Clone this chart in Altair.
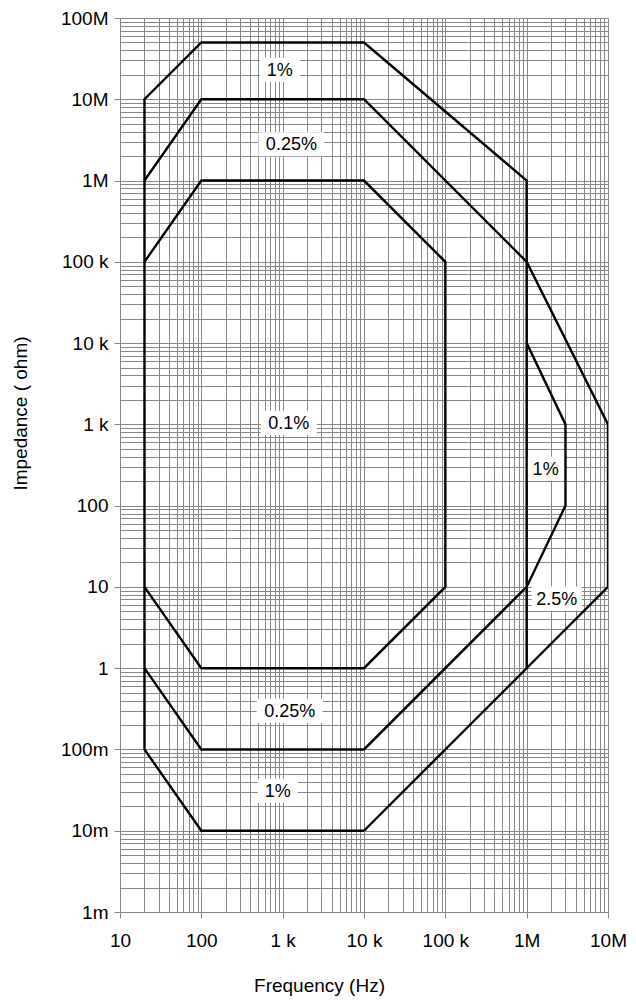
import altair as alt
import pandas as pd

# ---- data ----
# contour paths: frequency (Hz) and impedance (ohm) vertices
p1_freq = [10000, 100, 20, 20, 100, 10000, 1e6, 1e6]
p1_imp = [0.01, 0.01, 0.1, 1e7, 5e7, 5e7, 1e6, 1]

p2_freq = [20, 100, 10000, 1e6, 1e7, 1e7, 10000]
p2_imp = [1e6, 1e7, 1e7, 1e5, 1000, 10, 0.01]

p3_freq = [20, 100, 10000, 1e6, 3e6, 3e6, 1e6]
p3_imp = [1, 0.1, 0.1, 10, 100, 1000, 10000]

p4_freq = [20, 100, 10000, 1e5, 1e5, 10000, 100, 20]
p4_imp = [1e5, 1e6, 1e6, 1e5, 10, 1, 1, 10]

# accuracy labels
label_text = ["1%", "0.25%", "0.1%", "1%", "2.5%", "0.25%", "1%"]
label_freq = [920, 1280, 1190, 1.71e6, 2.34e6, 1220, 870]
label_imp = [2.3e7, 2.8e6, 1040, 284, 7.2, 0.30, 0.031]

# axis tick labels
x_tick_vals = [10, 100, 1000, 10000, 100000, 1e6, 1e7]
x_tick_text = ["10", "100", "1 k", "10 k", "100 k", "1M", "10M"]
y_tick_vals = [1e-3, 1e-2, 1e-1, 1, 10, 100, 1000, 1e4, 1e5, 1e6, 1e7, 1e8]
y_tick_text = ["1m", "10m", "100m", "1", "10", "100", "1 k", "10 k", "100 k", "1M", "10M", "100M"]

# ---- tables ----
rows = []
for pid, (fs, zs) in enumerate([(p1_freq, p1_imp), (p2_freq, p2_imp),
                                (p3_freq, p3_imp), (p4_freq, p4_imp)]):
    for i, (f, z) in enumerate(zip(fs, zs)):
        rows.append({"path": pid, "order": i, "f": f, "z": z})
lines_df = pd.DataFrame(rows)
labels_df = pd.DataFrame({"text": label_text, "f": label_freq, "z": label_imp})

# grid values: every 1..9 multiple of each decade
x_grid = [m * 10 ** e for e in range(1, 7) for m in range(1, 10)] + [1e7]
y_grid = [m * 10.0 ** e for e in range(-3, 8) for m in range(1, 10)] + [1e8]

FONT = "Liberation Sans"
GRID = "#878787"

def map_expr(vals_text, offset):
    arr = "[" + ",".join("'%s'" % t for t in vals_text) + "]"
    return ("abs(log(datum.value)/LN10 - round(log(datum.value)/LN10)) > 0.001 ? '' : "
            + arr + "[round(log(datum.value)/LN10) + %d]" % offset)

major_test = "abs(log(datum.value)/LN10 - round(log(datum.value)/LN10)) < 0.001"

x_scale = alt.Scale(type="log", domain=[10, 1e7], nice=False)
y_scale = alt.Scale(type="log", domain=[1e-3, 1e8], nice=False)

x_axis = alt.Axis(
    values=x_grid, labelExpr=map_expr(x_tick_text, -1),
    title="Frequency (Hz)", grid=True, gridColor=GRID, gridWidth=1, gridOpacity=1,
    domainColor=GRID, tickColor=GRID, tickSize=6,
    tickOpacity={"condition": {"test": major_test, "value": 1}, "value": 0},
    labelFont=FONT, labelFontSize=19, labelColor="black", labelPadding=13,
    labelFlush=False, labelOverlap=False,
    titleFont=FONT, titleFontSize=19, titleFontWeight="normal", titleColor="black",
    titleX=199, titleY=79, titleBaseline="alphabetic", titleAnchor="middle",
)
y_axis = alt.Axis(
    values=y_grid, labelExpr=map_expr(y_tick_text, 3),
    title="Impedance ( ohm)", grid=True, gridColor=GRID, gridWidth=1, gridOpacity=1,
    domainColor=GRID, tickColor=GRID, tickSize=6,
    tickOpacity={"condition": {"test": major_test, "value": 1}, "value": 0},
    labelFont=FONT, labelFontSize=19, labelColor="black", labelPadding=6,
    labelFlush=False, labelOverlap=False,
    titleFont=FONT, titleFontSize=19, titleFontWeight="normal", titleColor="black",
    titleX=-94, titleY=395, titleBaseline="alphabetic", titleAngle=-90,
)

lines = alt.Chart(lines_df).mark_line(color="black", strokeWidth=2.4, clip=True).encode(
    x=alt.X("f:Q", scale=x_scale, axis=x_axis),
    y=alt.Y("z:Q", scale=y_scale, axis=y_axis),
    detail="path:N",
    order="order:Q",
)

box_layers = []
for txt in ["1%", "0.25%", "0.1%", "2.5%"]:
    w = {"1%": 40, "0.25%": 66, "0.1%": 56, "2.5%": 50}[txt]
    box_layers.append(
        alt.Chart(labels_df).transform_filter(alt.datum.text == txt)
        .mark_rect(color="white", xOffset=-w / 2, x2Offset=w / 2, yOffset=-12, y2Offset=12)
        .encode(x=alt.X("f:Q", scale=x_scale), x2="f:Q",
                y=alt.Y("z:Q", scale=y_scale), y2="z:Q")
    )

texts = alt.Chart(labels_df).mark_text(
    font=FONT, fontSize=18, color="black", align="center", baseline="middle", dy=1
).encode(
    x=alt.X("f:Q", scale=x_scale),
    y=alt.Y("z:Q", scale=y_scale),
    text="text:N",
)

chart = alt.layer(*box_layers, lines, texts).properties(
    width=488, height=894,
    autosize=alt.AutoSizeParams(type="none"),
    padding={"left": 112, "top": 10, "right": 20, "bottom": 84},
    background="white",
).configure_view(stroke=None)

chart.save("out.html", embed_options={"renderer": "svg", "actions": False})
